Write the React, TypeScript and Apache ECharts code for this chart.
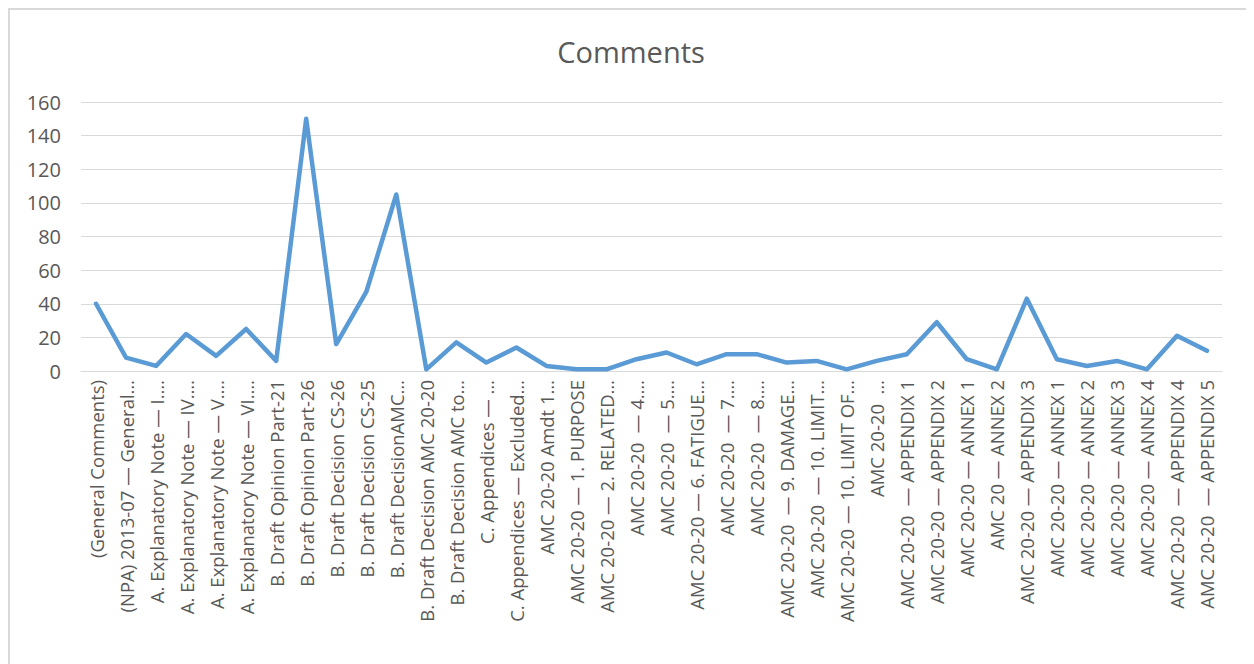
import React, { useEffect, useRef } from "react";
import * as echarts from "echarts";

const chartTitle = "Comments";

const categories: string[] = [
  "(General Comments)",
  "(NPA) 2013-07 — General…",
  "A. Explanatory Note — I.…",
  "A. Explanatory Note — IV.…",
  "A. Explanatory Note — V.…",
  "A. Explanatory Note — VI.…",
  "B. Draft Opinion Part-21",
  "B. Draft Opinion Part-26",
  "B. Draft Decision CS-26",
  "B. Draft Decision CS-25",
  "B. Draft DecisionAMC…",
  "B. Draft Decision AMC 20-20",
  "B. Draft Decision AMC to…",
  "C. Appendices — …",
  "C. Appendices — Excluded…",
  "AMC 20-20 Amdt 1…",
  "AMC 20-20 — 1. PURPOSE",
  "AMC 20-20 — 2. RELATED…",
  "AMC 20-20  — 4.…",
  "AMC 20-20  — 5.…",
  "AMC 20-20 — 6. FATIGUE…",
  "AMC 20-20  — 7.…",
  "AMC 20-20  — 8.…",
  "AMC 20-20  — 9. DAMAGE…",
  "AMC 20-20  — 10. LIMIT…",
  "AMC 20-20 — 10. LIMIT OF…",
  "AMC 20-20  …",
  "AMC 20-20  — APPENDIX 1",
  "AMC 20-20 — APPENDIX 2",
  "AMC 20-20 — ANNEX 1",
  "AMC 20 — ANNEX 2",
  "AMC 20-20 — APPENDIX 3",
  "AMC 20-20 — ANNEX 1",
  "AMC 20-20 — ANNEX 2",
  "AMC 20-20 — ANNEX 3",
  "AMC 20-20 — ANNEX 4",
  "AMC 20-20  — APPENDIX 4",
  "AMC 20-20  — APPENDIX 5",
];

const commentCounts: number[] = [
  40, 8, 3, 22, 9, 25, 6, 150, 16, 47, 105, 1, 17, 5, 14, 3, 1, 1, 7, 11, 4,
  10, 10, 5, 6, 1, 6, 10, 29, 7, 1, 43, 7, 3, 6, 1, 21, 12,
];

const yMin = 0;
const yMax = 160;
const yStep = 20;

export default function App() {
  const ref = useRef<HTMLDivElement>(null);

  useEffect(() => {
    if (!ref.current) return;
    const chart = echarts.init(ref.current, null, { renderer: "svg" });
    const font = "'Open Sans', 'Liberation Sans', sans-serif";
    chart.setOption({
      animation: false,
      backgroundColor: "#ffffff",
      title: {
        text: chartTitle,
        left: "center",
        top: 24,
        textStyle: {
          fontFamily: font,
          fontSize: 29,
          fontWeight: "normal",
          color: "#595959",
        },
      },
      graphic: [
        {
          type: "rect",
          shape: { x: 1, y: 1, width: 1240, height: 700 },
          style: { fill: "none", stroke: "#d9d9d9", lineWidth: 2 },
          silent: true,
        },
      ],
      grid: { left: 73, right: 32, top: 94, bottom: 293, containLabel: false },
      xAxis: {
        type: "category",
        data: categories,
        boundaryGap: true,
        axisLine: { show: true, lineStyle: { color: "#d9d9d9", width: 1 } },
        axisTick: { show: false },
        axisLabel: {
          interval: 0,
          rotate: 90,
          margin: 9,
          fontFamily: font,
          fontSize: 18.5,
          color: "#595959",
        },
      },
      yAxis: {
        type: "value",
        min: yMin,
        max: yMax,
        interval: yStep,
        axisLine: { show: false },
        axisTick: { show: false },
        splitLine: { show: true, lineStyle: { color: "#d9d9d9", width: 1 } },
        axisLabel: {
          margin: 20,
          fontFamily: font,
          fontSize: 20,
          color: "#595959",
        },
      },
      series: [
        {
          type: "line",
          data: commentCounts,
          symbol: "none",
          lineStyle: { color: "#5b9bd5", width: 4.5, cap: "round", join: "round" },
        },
      ],
    });
    return () => chart.dispose();
  }, []);

  return <div ref={ref} style={{ width: 1246, height: 656 }} />;
}
